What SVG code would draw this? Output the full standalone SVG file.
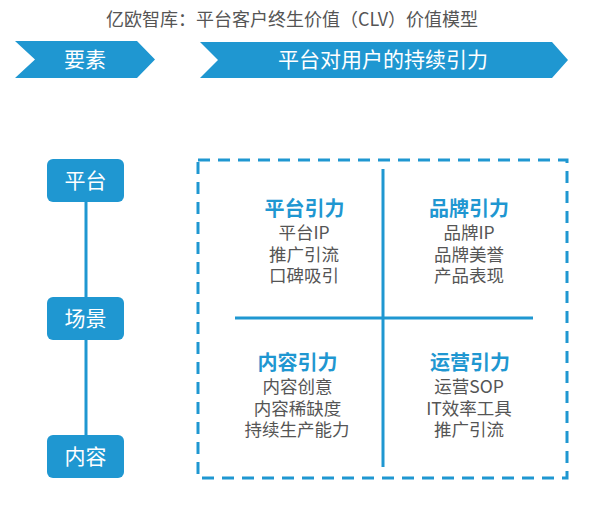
<svg xmlns="http://www.w3.org/2000/svg" width="615" height="505" viewBox="0 0 615 505">
<style>
text{font-family:"Noto Sans CJK SC","Noto Sans",sans-serif;text-anchor:middle}
.title{font-size:18px;fill:#555}
.chev{fill:#1f97d1}
.chevt{font-size:21px;fill:#fff}
.node rect{fill:#1f97d1}
.nodet{font-size:21px;fill:#fff}
.head{font-size:20px;font-weight:bold;fill:#1f97d1}
.item{font-size:17.5px;fill:#555}
.conn{stroke:#1f97d1;stroke-width:3;fill:none}
</style>
<rect width="615" height="505" fill="#fff"/>
<text class="title" x="292" y="26">亿欧智库：平台客户终生价值（CLV）价值模型</text>
<g id="chevron-elements">
<polygon class="chev" points="15,41 137,41 155,59.5 137,78 15,78 35,59.5"/>
<text class="chevt" x="85" y="67">要素</text>
</g>
<g id="chevron-attraction">
<polygon class="chev" points="200,42 552,42 568,60 552,78 200,78 218,60"/>
<text class="chevt" x="383" y="67">平台对用户的持续引力</text>
</g>
<g id="connectors">
<line class="conn" x1="86" y1="202" x2="86" y2="297"/>
<line class="conn" x1="86" y1="340" x2="86" y2="435"/>
<rect class="conn" x="198" y="160" width="369" height="318" stroke-dasharray="12,8"/>
<line class="conn" x1="383" y1="169" x2="383" y2="467"/>
<line class="conn" x1="235" y1="318" x2="533" y2="318"/>
</g>
<g id="node-platform" class="node">
<rect x="47" y="159" width="77" height="43" rx="6"/>
<text class="nodet" x="85.5" y="188">平台</text>
</g>
<g id="node-scene" class="node">
<rect x="47" y="297" width="77" height="43" rx="6"/>
<text class="nodet" x="85.5" y="326">场景</text>
</g>
<g id="node-content" class="node">
<rect x="47" y="435" width="77" height="43" rx="6"/>
<text class="nodet" x="85.5" y="464">内容</text>
</g>
<g id="quad-platform">
<text class="head" x="304.5" y="216">平台引力</text>
<text class="item" x="304" y="239">平台IP</text>
<text class="item" x="304" y="261">推广引流</text>
<text class="item" x="304" y="282">口碑吸引</text>
</g>
<g id="quad-brand">
<text class="head" x="469" y="216">品牌引力</text>
<text class="item" x="469" y="239">品牌IP</text>
<text class="item" x="469" y="261">品牌美誉</text>
<text class="item" x="469" y="282">产品表现</text>
</g>
<g id="quad-content">
<text class="head" x="297.5" y="370">内容引力</text>
<text class="item" x="297.5" y="393">内容创意</text>
<text class="item" x="297.5" y="415">内容稀缺度</text>
<text class="item" x="297" y="436">持续生产能力</text>
</g>
<g id="quad-operation">
<text class="head" x="470" y="370">运营引力</text>
<text class="item" x="469" y="393">运营SOP</text>
<text class="item" x="469" y="415">IT效率工具</text>
<text class="item" x="469" y="436">推广引流</text>
</g>
</svg>
